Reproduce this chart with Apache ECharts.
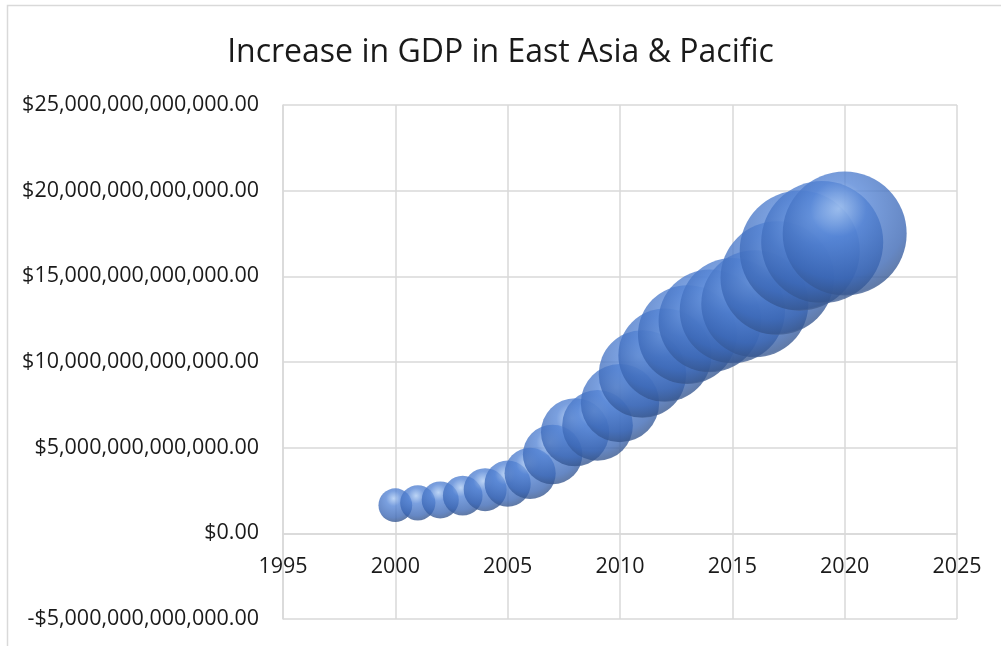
<!DOCTYPE html>
<html>
<head>
<meta charset="utf-8">
<script src="https://cdn.jsdelivr.net/npm/echarts@6/dist/echarts.min.js"></script>
<style>
html,body{margin:0;padding:0;background:#fff;}
#chart{width:1001px;height:646px;}
</style>
</head>
<body>
<div id="chart"></div>
<script>
// Data
var titleText = "Increase in GDP in East Asia & Pacific";
var years = [2000, 2001, 2002, 2003, 2004, 2005, 2006, 2007, 2008, 2009, 2010,
             2011, 2012, 2013, 2014, 2015, 2016, 2017, 2018, 2019, 2020];
var gdp = [1.64e12, 1.78e12, 1.95e12, 2.2e12, 2.55e12, 2.9e12, 3.5e12, 4.6e12, 5.9e12, 6.3e12, 7.6e12,
           9.3e12, 10.4e12, 11.6e12, 12.4e12, 13.0e12, 13.4e12, 14.9e12, 16.5e12, 17.0e12, 17.5e12];
var bubbleSizes = gdp.slice();
var xTicks = {min: 1995, max: 2025, interval: 5};
var yTicks = {min: -5e12, max: 25e12, interval: 5e12};

var maxSize = Math.max.apply(null, bubbleSizes);
var data = years.map(function (y, i) { return [y, gdp[i], bubbleSizes[i]]; });

function money(v) {
  var neg = v < 0;
  var s = Math.abs(v).toFixed(2);
  var parts = s.split('.');
  parts[0] = parts[0].replace(/\B(?=(\d{3})+(?!\d))/g, ',');
  return (neg ? '-' : '') + '$' + parts[0] + '.' + parts[1];
}

var W = 1001, H = 646;
var gridBox = {left: 283, right: 44, top: 105, bottom: 27};
var plotH = H - gridBox.top - gridBox.bottom;
// place the x axis on the y = 0 line (as in the reference)
var zeroOffset = -plotH * (0 - yTicks.min) / (yTicks.max - yTicks.min);

var chart = echarts.init(document.getElementById('chart'), null, {renderer: 'canvas'});
var gridColor = '#d9d9d9';
var font = 'Open Sans';
chart.setOption({
  animation: false,
  backgroundColor: '#ffffff',
  title: {
    text: titleText,
    left: 'center',
    top: 32,
    textStyle: {fontFamily: font, fontSize: 32, fontWeight: 'normal', color: '#1a1a1a'}
  },
  graphic: [{
    type: 'rect',
    shape: {x: 7.5, y: 5.5, width: 1100, height: 800},
    style: {fill: 'none', stroke: '#d9d9d9', lineWidth: 1.5},
    silent: true,
    z: -10
  }],
  grid: {left: gridBox.left, right: gridBox.right, top: gridBox.top, bottom: gridBox.bottom,
         containLabel: false, outerBoundsMode: 'none'},
  xAxis: {
    type: 'value',
    position: 'bottom',
    offset: zeroOffset,
    min: xTicks.min, max: xTicks.max, interval: xTicks.interval,
    axisLine: {show: true, onZero: false, lineStyle: {color: gridColor, width: 1.5}},
    axisTick: {show: false},
    axisLabel: {fontFamily: font, fontSize: 21.5, color: '#1a1a1a', margin: 23,
                formatter: function (v) { return String(v); }},
    splitLine: {show: true, lineStyle: {color: gridColor, width: 1.5}}
  },
  yAxis: {
    type: 'value',
    min: yTicks.min, max: yTicks.max, interval: yTicks.interval,
    axisLine: {show: true, lineStyle: {color: gridColor, width: 1.5}},
    axisTick: {show: false},
    axisLabel: {fontFamily: font, fontSize: 21.5, color: '#1a1a1a', margin: 24, formatter: money},
    splitLine: {show: true, lineStyle: {color: gridColor, width: 1.5}}
  },
  series: [{
    type: 'scatter',
    data: data,
    symbol: 'circle',
    symbolSize: function (val) { return 124 * Math.pow(val[2] / maxSize, 0.55); },
    itemStyle: {
      opacity: 0.78,
      color: {
        type: 'radial', x: 0.45, y: 0.3, r: 0.75,
        colorStops: [
          {offset: 0, color: '#a9c8f2'},
          {offset: 0.3, color: '#5585d6'},
          {offset: 0.75, color: '#3a66b4'},
          {offset: 0.92, color: '#34558f'},
          {offset: 1, color: '#8190ab'}
        ]
      }
    }
  }]
});
</script>
</body>
</html>
